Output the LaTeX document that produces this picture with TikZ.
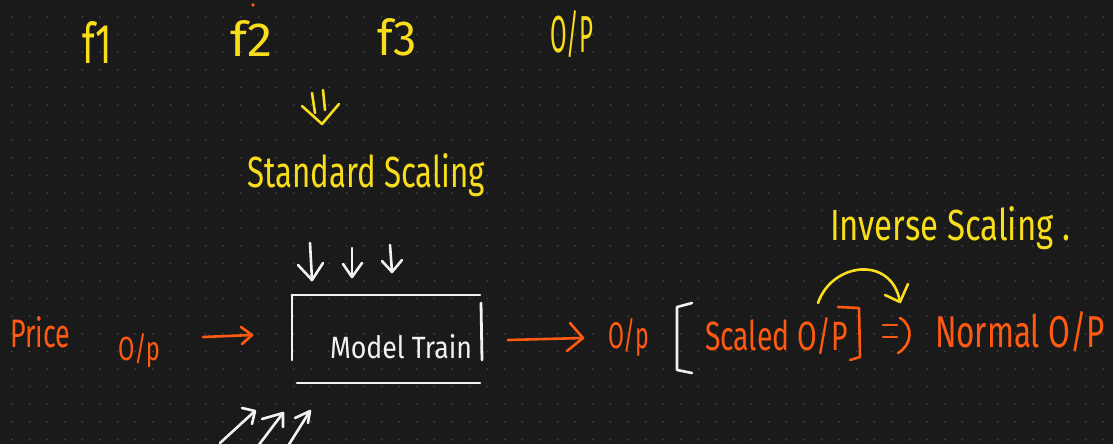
\documentclass[tikz,border=0pt]{standalone}
\usepackage{fontspec}
\setmainfont{Fira Sans}
\usepackage{graphicx}
\definecolor{board}{HTML}{1A1A1A}
\definecolor{gridDot}{HTML}{3C3C3C}
\definecolor{inkYellow}{HTML}{F7DD1A}
\definecolor{inkOrange}{HTML}{FF5A12}
\definecolor{inkWhite}{HTML}{F2F2F2}
% handwritten-style label: width, height above baseline, text
\newcommand{\hw}[3]{\resizebox{#1pt}{#2pt}{#3}}

\begin{document}
\begin{tikzpicture}[x=1pt,y=-1pt,
  pen/.style={line width=2.6pt,line cap=round,line join=round},
  note/.style={inner sep=0pt,outer sep=0pt,anchor=base west},
  yel/.style={text=inkYellow,draw=none},
  org/.style={text=inkOrange,draw=none},
  wht/.style={text=inkWhite,draw=none}]

% board and dot grid
\fill[board] (0,0) rectangle (1113,444);
\useasboundingbox (0,0) rectangle (1113,444);
\foreach \i in {0,...,63}
  \foreach \j in {0,...,24}
    \fill[gridDot] ({12+17.6*\i},{17+17.6*\j}) circle (1.1pt);

% stray pen dot
\fill[inkOrange] (253,5) circle (1.8pt);

% features and output heading
\node[note,yel] (f1) at (82,64) {\hw{30}{42}{f1}};
\node[note,yel] (f2) at (230,57) {\hw{43}{36}{f2}};
\node[note,yel] (f3) at (377,56) {\hw{40}{37}{f3}};
\node[note,yel] (opTop) at (550,53) {\hw{43}{42}{O/P}};

% double arrow down to the scaling step
\coordinate (dblA) at (312,93);
\coordinate (dblB) at (315,113);
\coordinate (dblC) at (323,90);
\coordinate (dblD) at (325,110);
\coordinate (dblTip) at (322,124);
\draw[pen,inkYellow] (dblA) -- (dblB);
\draw[pen,inkYellow] (dblC) -- (dblD);
\draw[pen,inkYellow] (302,106) -- (dblTip) -- (339,104);

\node[note,yel] (stdScale) at (247,187) {\hw{238}{34}{Standard Scaling}};

% three inputs into the model
\coordinate (in1s) at (310,243);
\coordinate (in1e) at (312,280);
\coordinate (in2s) at (352,248);
\coordinate (in2e) at (352,277);
\coordinate (in3s) at (390,245);
\coordinate (in3e) at (392,272);
\draw[pen,inkWhite] (in1s) -- (in1e);
\draw[pen,inkWhite] (298,265) -- (in1e) -- (323,263);
\draw[pen,inkWhite] (in2s) -- (in2e);
\draw[pen,inkWhite] (343,264) -- (in2e) -- (362,263);
\draw[pen,inkWhite] (in3s) -- (in3e);
\draw[pen,inkWhite] (382,261) -- (in3e) -- (402,260);

% model box
\node[note,wht] (model) at (330,358) {\hw{142}{24}{Model Train}};
\draw[pen,inkWhite,line width=2.8pt] (292,295) -- (480,295);
\draw[pen,inkWhite,line width=2.8pt] (292,295) -- (292,360);
\draw[pen,inkWhite,line width=2.8pt] (481,303) -- (482,360);
\draw[pen,inkWhite,line width=2.8pt] (297,383) -- (480,383);

% inputs on the left
\node[note,org] (price) at (10,347) {\hw{60}{31}{Price}};
\node[note,org] (opIn) at (118,360) {\hw{42}{27}{O/p}};
\coordinate (a1s) at (203,337);
\coordinate (a1e) at (252,335);
\draw[pen,inkOrange] (a1s) -- (a1e);
\draw[pen,inkOrange] (241,327) -- (a1e) -- (242,344);

% rising arrows below the box
\coordinate (u1s) at (220,443);
\coordinate (u1e) at (255,411);
\coordinate (u2s) at (258,446);
\coordinate (u2e) at (283,413);
\coordinate (u3s) at (288,446);
\coordinate (u3e) at (310,411);
\draw[pen,inkWhite] (u1s) -- (u1e);
\draw[pen,inkWhite] (242,408) -- (u1e) -- (252,424);
\draw[pen,inkWhite] (u2s) -- (u2e);
\draw[pen,inkWhite] (262,419) -- (u2e) -- (283,427);
\draw[pen,inkWhite] (u3s) -- (u3e);
\draw[pen,inkWhite] (295,418) -- (u3e) -- (308,423);

% model output
\coordinate (a2s) at (508,340);
\coordinate (a2e) at (583,338);
\draw[pen,inkOrange] (a2s) -- (a2e);
\draw[pen,inkOrange] (570,323) -- (a2e) -- (567,351);
\node[note,org] (opOut) at (608,348) {\hw{41}{30}{O/p}};

% scaled output in brackets
\draw[pen,inkWhite] (692,303) -- (677,307) -- (677,370) -- (692,373);
\node[note,org] (scaled) at (705,350) {\hw{143}{33}{Scaled O/P}};
\draw[pen,inkOrange] (838,307) -- (859,308) -- (860,357) -- (850,360);

% implies sign and restored output
\draw[pen,inkOrange] (883,325) -- (897,325);
\draw[pen,inkOrange] (883,337) -- (897,337);
\draw[pen,inkOrange] (900,318) .. controls (914,326) and (912,345) .. (898,353);
\node[note,org] (normal) at (935,347) {\hw{170}{36}{Normal O/P}};

% inverse scaling note with curved arrow
\node[note,yel] (invScale) at (830,240) {\hw{240}{34}{Inverse Scaling .}};
\coordinate (arcS) at (818,303);
\coordinate (arcE) at (900,302);
\draw[pen,inkYellow] (arcS) .. controls (832,262) and (892,255) .. (arcE);
\draw[pen,inkYellow] (885,295) -- (arcE) -- (908,284);
\end{tikzpicture}
\end{document}
